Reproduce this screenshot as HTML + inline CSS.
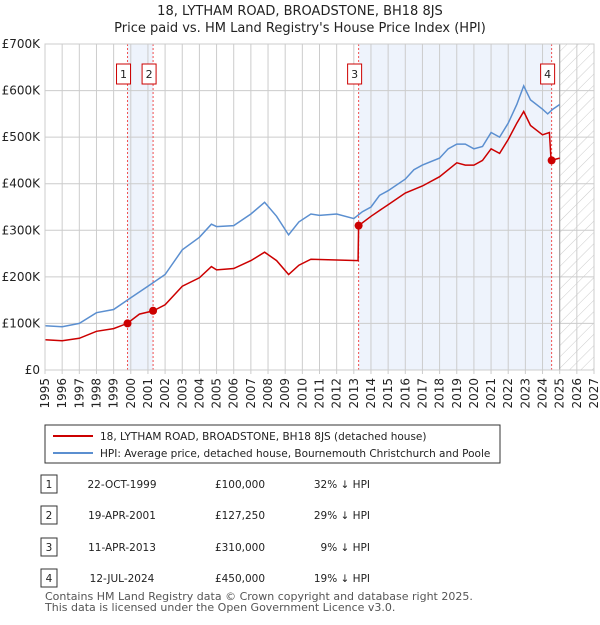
<!DOCTYPE html>
<html><head><meta charset="utf-8"><style>
body{margin:0;background:#fff;font-family:"Liberation Sans","DejaVu Sans",sans-serif;}
svg text{font-family:"DejaVu Sans","Liberation Sans",sans-serif;}
</style></head><body>
<svg id="c" width="600" height="620" viewBox="0 0 600 620" xmlns="http://www.w3.org/2000/svg">
<defs><pattern id="hatch" width="8" height="8" patternUnits="userSpaceOnUse" patternTransform="rotate(45)"><line x1="0" y1="0" x2="0" y2="8" stroke="#ccc" stroke-width="1"/></pattern></defs>
<text x="300" y="15" text-anchor="middle" font-size="13" fill="#222">18, LYTHAM ROAD, BROADSTONE, BH18 8JS</text>
<text x="300" y="32" text-anchor="middle" font-size="13" fill="#222">Price paid vs. HM Land Registry's House Price Index (HPI)</text>
<g id="plot"></g>
<g>
<rect x="45" y="425" width="455" height="38" fill="#fff" stroke="#333"/>
<line x1="53" y1="436" x2="93" y2="436" stroke="#cc0000" stroke-width="2"/>
<text x="100" y="440" font-size="10.5" fill="#222">18, LYTHAM ROAD, BROADSTONE, BH18 8JS (detached house)</text>
<line x1="53" y1="453" x2="93" y2="453" stroke="#5b8fd0" stroke-width="2"/>
<text x="100" y="457" font-size="10.5" fill="#222">HPI: Average price, detached house, Bournemouth Christchurch and Poole</text>
</g>
<g id="table" font-size="10.5" fill="#222"></g>
<text x="45" y="600" font-size="11" fill="#555">Contains HM Land Registry data © Crown copyright and database right 2025.</text>
<text x="45" y="611" font-size="11" fill="#555">This data is licensed under the Open Government Licence v3.0.</text>
</svg>
<script>
const hpiYears=[1995,1996,1997,1998,1999,2000,2001,2002,2003,2004,2004.7,2005,2006,2007,2007.8,2008.5,2009.2,2009.8,2010.5,2011,2012,2013,2013.5,2014,2014.5,2015,2016,2016.5,2017,2018,2018.5,2019,2019.5,2020,2020.5,2021,2021.5,2022,2022.5,2022.9,2023.3,2024,2024.3,2024.6,2025];
const hpiValues=[95,93,100,123,130,155,180,205,258,285,313,308,310,335,360,330,290,318,335,332,335,325,340,350,375,385,410,430,440,455,475,485,485,475,480,510,500,530,570,610,580,560,550,560,570];
const priceYears=[1995,1996,1997,1998,1999,1999.8,2000.5,2001.3,2002,2003,2004,2004.7,2005,2006,2007,2007.8,2008.5,2009.2,2009.8,2010.5,2013.25,2013.28,2014,2015,2016,2017,2018,2019,2019.5,2020,2020.5,2021,2021.5,2022,2022.5,2022.9,2023.3,2024,2024.4,2024.5,2025];
const priceValues=[65,63,68,83,89,100,120,127,140,180,198,222,215,218,235,253,235,205,225,238,235,310,330,355,380,395,415,445,440,440,450,475,465,495,530,555,525,505,510,450,455];
const saleLabels=["1","2","3","4"];
const saleYears=[1999.81,2001.3,2013.28,2024.53];
const saleValues=[100,127.25,310,450];
const saleDates=["22-OCT-1999","19-APR-2001","11-APR-2013","12-JUL-2024"];
const salePrices=["£100,000","£127,250","£310,000","£450,000"];
const saleDiffs=["32% ↓ HPI","29% ↓ HPI","9% ↓ HPI","19% ↓ HPI"];
const yTicks=[0,100,200,300,400,500,600,700];
const yTickLabels=["£0","£100K","£200K","£300K","£400K","£500K","£600K","£700K"];
const xTicks=[1995,1996,1997,1998,1999,2000,2001,2002,2003,2004,2005,2006,2007,2008,2009,2010,2011,2012,2013,2014,2015,2016,2017,2018,2019,2020,2021,2022,2023,2024,2025,2026,2027];

const X0=45,X1=594,Y0=370,Y1=44;
const x=v=>X0+(v-1995)/(2027-1995)*(X1-X0);
const y=v=>Y0-v/700*(Y0-Y1);
const NS="http://www.w3.org/2000/svg";
const g=document.getElementById('plot');
function mk(t,a,p){const e=document.createElementNS(NS,t);for(const k in a)e.setAttribute(k,a[k]);(p||g).appendChild(e);return e;}
let r;
r=mk('rect',{x:x(saleYears[0]),y:Y1,width:x(saleYears[1])-x(saleYears[0]),height:Y0-Y1,fill:'#eef3fc'});


r=mk('rect',{x:x(saleYears[2]),y:Y1,width:x(saleYears[3])-x(saleYears[2]),height:Y0-Y1,fill:'#eef3fc'});


r=mk('rect',{x:x(2025),y:Y1,width:X1-x(2025),height:Y0-Y1,fill:'url(#hatch)'});


xTicks.forEach(t=>{const l=mk('line',{x1:x(t),x2:x(t),y1:Y1,y2:Y0+4,stroke:'#ccc'});


const tx=mk('text',{x:0,y:0,'font-size':12,fill:'#222','text-anchor':'end',transform:`translate(${x(t)+4},${Y0+8}) rotate(-90)`});tx.textContent=t;

});
yTicks.forEach((t,i)=>{const l=mk('line',{x1:X0,x2:X1,y1:y(t),y2:y(t),stroke:'#ccc'});


const tx=mk('text',{x:X0-5,y:y(t)+4,'font-size':12,fill:'#222','text-anchor':'end'});tx.textContent=yTickLabels[i];

});
r=mk('line',{x1:x(2025),x2:x(2025),y1:Y1,y2:Y0,stroke:'#999'});


saleYears.forEach((s,i)=>{const l=mk('line',{x1:x(s),x2:x(s),y1:Y1,y2:Y0,stroke:'#f05050','stroke-dasharray':'2,2'});


const b=mk('rect',{x:x(s)-11,y:64,width:14,height:20,fill:'#fff',stroke:'#cc0000'});


const tx=mk('text',{x:x(s)-4,y:78,'font-size':11,fill:'#222','text-anchor':'middle'});tx.textContent=saleLabels[i];

});
const path=(xs,vs)=>xs.map((v,i)=>(i?'L':'M')+x(v).toFixed(1)+','+y(vs[i]).toFixed(1)).join('');
r=mk('path',{d:path(hpiYears,hpiValues),fill:'none',stroke:'#5b8fd0','stroke-width':1.5});


r=mk('path',{d:path(priceYears,priceValues),fill:'none',stroke:'#cc0000','stroke-width':1.5});


saleYears.forEach((s,i)=>{const c=mk('circle',{cx:x(s),cy:y(saleValues[i]),r:4,fill:'#cc0000'});

});
r=mk('rect',{x:X0,y:Y1,width:X1-X0,height:Y0-Y1,fill:'none',stroke:'#ccc'});


const tb=document.getElementById('table');
const rowY=[486,517,549,580];
saleLabels.forEach((l,i)=>{const yy=rowY[i];
const b=mk('rect',{x:41,y:yy-11,width:16,height:18,fill:'#fff',stroke:'#333'},tb);


const vals=[[49,l,'middle'],[122,saleDates[i],'middle'],[240,salePrices[i],'middle'],[370,saleDiffs[i],'end']];
vals.forEach(v=>{const t=mk('text',{x:v[0],y:yy+2,'text-anchor':v[2]},tb);t.textContent=v[1];

});});
</script>
</body></html>
